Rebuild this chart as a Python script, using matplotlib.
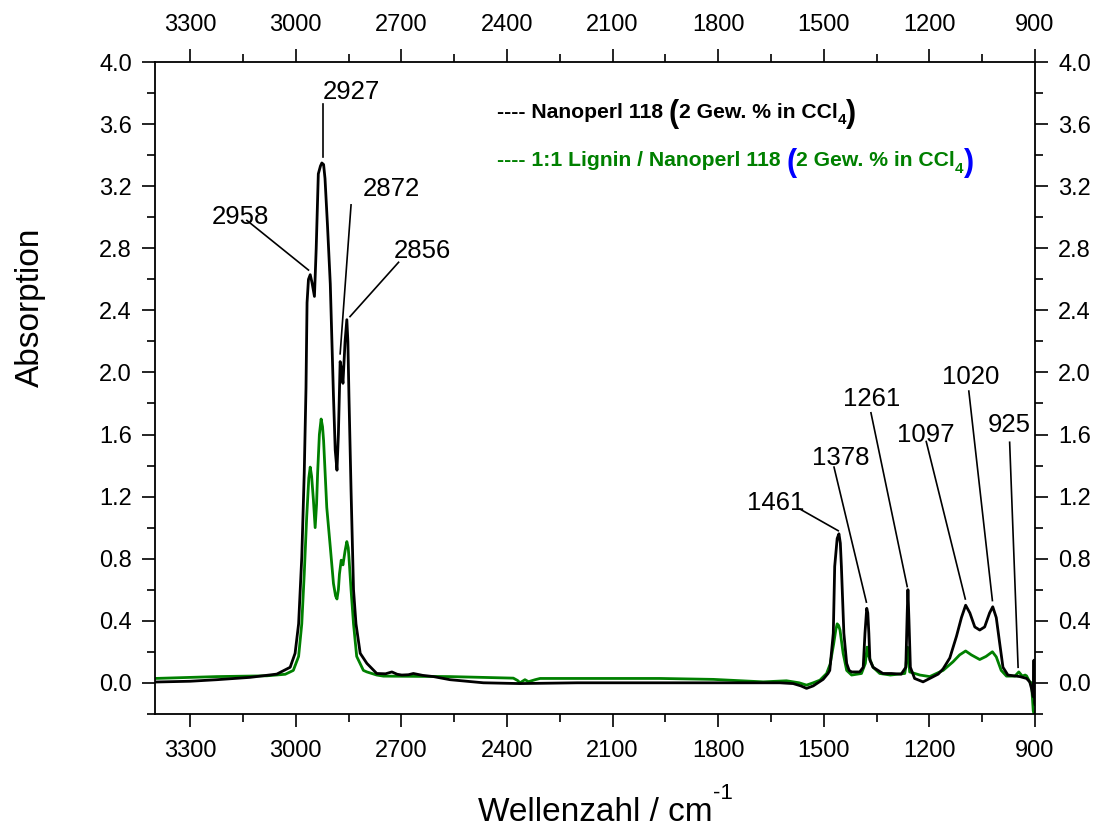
import numpy as np
import matplotlib
matplotlib.use("Agg")
import matplotlib.pyplot as plt
from matplotlib.ticker import MultipleLocator, FormatStrFormatter

plt.rcParams['font.family'] = ['Liberation Sans', 'DejaVu Sans']

# Nanoperl 118 (black) - wavenumber / absorbance
black_w = [3400, 3300, 3224, 3130, 3054, 3016, 3002, 2992, 2983, 2976, 2971, 2968,
           2964, 2959, 2954, 2947, 2942, 2936, 2930, 2926, 2921, 2917, 2910, 2902,
           2893, 2888, 2883, 2879, 2876, 2874, 2870, 2866, 2860, 2855, 2852, 2849,
           2843, 2836, 2829, 2817, 2798, 2770, 2745, 2727, 2712, 2699, 2680, 2666,
           2640, 2609, 2562, 2467, 2363, 2200, 1625, 1587, 1565, 1549, 1530, 1502,
           1488, 1483, 1478, 1473, 1469, 1462, 1457, 1453, 1450, 1443, 1435, 1428,
           1421, 1398, 1388, 1383, 1378, 1375, 1372, 1369, 1360, 1346, 1332, 1308,
           1280, 1267, 1263, 1261, 1258, 1254, 1242, 1218, 1199, 1175, 1161, 1142,
           1123, 1109, 1097, 1085, 1071, 1057, 1043, 1029, 1020, 1010, 1000, 991,
           977, 943, 924, 915, 910, 905, 903, 901, 900]
black_a = [0.005, 0.01, 0.02, 0.035, 0.056, 0.10, 0.19, 0.38, 0.81, 1.35, 1.90, 2.45,
           2.60, 2.63, 2.58, 2.49, 2.80, 3.28, 3.33, 3.35, 3.34, 3.25, 2.95, 2.57,
           1.85, 1.50, 1.37, 1.60, 1.88, 2.07, 2.02, 1.93, 2.20, 2.34, 2.20, 1.85,
           1.24, 0.60, 0.38, 0.19, 0.125, 0.06, 0.058, 0.07, 0.055, 0.05, 0.052, 0.06,
           0.048, 0.04, 0.02, 0.0, -0.005, 0.0, 0.0, -0.005, -0.02, -0.036, -0.02, 0.022,
           0.06, 0.08, 0.20, 0.32, 0.75, 0.93, 0.96, 0.90, 0.75, 0.32, 0.125, 0.08,
           0.07, 0.07, 0.10, 0.32, 0.48, 0.45, 0.32, 0.146, 0.10, 0.08, 0.06, 0.06,
           0.056, 0.10, 0.45, 0.60, 0.40, 0.10, 0.028, 0.006, 0.028, 0.056, 0.09, 0.16,
           0.30, 0.42, 0.50, 0.45, 0.36, 0.34, 0.36, 0.45, 0.49, 0.42, 0.25, 0.10,
           0.05, 0.04, 0.028, 0.006, -0.036, -0.09, 0.146, -0.13, -0.14]

# 1:1 Lignin / Nanoperl 118 (green)
green_w = [3400, 3224, 3082, 3030, 3016, 3007, 2992, 2983, 2976, 2969, 2963, 2959,
           2955, 2950, 2945, 2941, 2938, 2933, 2928, 2924, 2921, 2912, 2902, 2893,
           2887, 2883, 2879, 2876, 2871, 2866, 2860, 2855, 2851, 2849, 2843, 2836,
           2827, 2808, 2798, 2770, 2751, 2562, 2382, 2370, 2363, 2349, 2339, 2320,
           2306, 2193, 1966, 1814, 1672, 1606, 1570, 1549, 1530, 1511, 1492, 1482,
           1472, 1466, 1462, 1458, 1454, 1445, 1435, 1421, 1393, 1382, 1377, 1372,
           1360, 1341, 1311, 1270, 1267, 1262, 1256, 1227, 1199, 1161, 1133, 1114,
           1097, 1081, 1057, 1039, 1021, 1010, 996, 981, 957, 946, 936, 928,
           924, 915, 910, 905, 903]
green_a = [0.028, 0.04, 0.045, 0.055, 0.07, 0.08, 0.17, 0.38, 0.70, 1.07, 1.32, 1.39,
           1.33, 1.18, 1.00, 1.15, 1.35, 1.60, 1.70, 1.65, 1.56, 1.13, 0.875, 0.64,
           0.56, 0.54, 0.60, 0.70, 0.79, 0.76, 0.85, 0.91, 0.87, 0.81, 0.60, 0.38,
           0.17, 0.08, 0.07, 0.05, 0.043, 0.04, 0.03, 0.015, 0.0, 0.02, 0.007, 0.02,
           0.028, 0.028, 0.028, 0.022, 0.006, 0.013, 0.0, -0.015, 0.0, 0.017, 0.06, 0.12,
           0.25, 0.34, 0.38, 0.37, 0.34, 0.19, 0.08, 0.05, 0.06, 0.125, 0.23, 0.17,
           0.10, 0.06, 0.05, 0.06, 0.10, 0.23, 0.07, 0.05, 0.04, 0.08, 0.135, 0.18,
           0.205, 0.18, 0.15, 0.17, 0.20, 0.167, 0.08, 0.043, 0.043, 0.07, 0.043, 0.05,
           0.045, 0.006, 0.0, -0.18, -0.2]

# peak labels: text, text position, line start, line end (data coords)
peak_labels = ['2958', '2927', '2872', '2856', '1461', '1378', '1261', '1097', '1020', '925']
label_xy = [(3158, 3.00), (2841, 3.81), (2729, 3.18), (2641, 2.78), (1636, 1.156),
            (1453, 1.45), (1365, 1.83), (1211, 1.60), (1082, 1.97), (973, 1.66)]
line_from = [(3139, 2.98), (2922, 3.73), (2843, 3.08), (2708, 2.71), (1568, 1.12),
             (1471, 1.39), (1366, 1.74), (1209, 1.555), (1088, 1.88), (972, 1.55)]
line_to = [(2964, 2.66), (2922, 3.39), (2874, 2.12), (2846, 2.36), (1459, 0.98),
           (1379, 0.52), (1263, 0.62), (1098, 0.54), (1021, 0.53), (948, 0.10)]

green = '#008000'

fig = plt.figure(figsize=(11, 8.26), dpi=100)
ax = fig.add_axes([0.1409, 0.1358, 0.8, 0.789])

ax.plot(green_w, green_a, color=green, lw=2.0)
ax.plot(black_w, black_a, color='black', lw=2.0)

for lab, txy, p0, p1 in zip(peak_labels, label_xy, line_from, line_to):
    ax.plot([p0[0], p1[0]], [p0[1], p1[1]], color='black', lw=1.2)
    ax.text(txy[0], txy[1], lab, fontsize=18.5, ha='center', va='center')

ax.set_xlim(3400, 900)
ax.set_ylim(-0.2, 4.0)
ax.xaxis.set_major_locator(MultipleLocator(300))
ax.xaxis.set_minor_locator(MultipleLocator(150))
ax.yaxis.set_major_locator(MultipleLocator(0.4))
ax.yaxis.set_minor_locator(MultipleLocator(0.2))
ax.yaxis.set_major_formatter(FormatStrFormatter('%.1f'))

for s in ax.spines.values():
    s.set_linewidth(1.3)
ax.tick_params(which='both', direction='out', top=True, right=True,
               labeltop=True, labelright=True, width=1.2, labelsize=17)
ax.tick_params(which='major', length=9.7)
ax.tick_params(which='minor', length=5.5)
ax.tick_params(axis='x', pad=9)
ax.tick_params(axis='y', pad=7)

fig.text(30 / 1100, 1 - 307 / 826, 'Absorption', rotation=90, fontsize=24,
         ha='center', va='center')
# x label with a plain hyphen in the superscript
xl = fig.text(478 / 1100, 1 - 821 / 826, 'Wellenzahl / cm', fontsize=24,
              ha='left', va='baseline')
ax.annotate('-1', xy=(1, 1 - 799 / 826), xycoords=(xl, fig.transFigure),
            fontsize=16, ha='left', va='baseline', annotation_clip=False)


def rich_line(pieces, x, y):
    # chain text pieces left to right on one baseline
    s, c, fs, dy = pieces[0]
    prev = ax.text(x, y, s, transform=ax.transAxes, color=c, fontsize=fs,
                   fontweight='bold', va='baseline', ha='left')
    for s, c, fs, dy in pieces[1:]:
        prev = ax.annotate(s, xy=(1, y), xycoords=(prev, ax.transAxes),
                           xytext=(0, dy), textcoords='offset points',
                           color=c, fontsize=fs, fontweight='bold',
                           va='baseline', ha='left')


rich_line([('---- Nanoperl 118 ', 'black', 15.2, 0),
           ('(', 'black', 22, -3),
           ('2 Gew. % in CCl', 'black', 15.2, 0),
           ('4', 'black', 11, -5),
           (')', 'black', 22, -3)], 0.3886, 0.915)
rich_line([('---- 1:1 Lignin / Nanoperl 118 ', green, 15.2, 0),
           ('(', 'blue', 22, -3),
           ('2 Gew. % in CCl', green, 15.2, 0),
           ('4', green, 11, -5),
           (')', 'blue', 22, -3)], 0.3886, 0.840)

fig.savefig('out.png', dpi=100)
